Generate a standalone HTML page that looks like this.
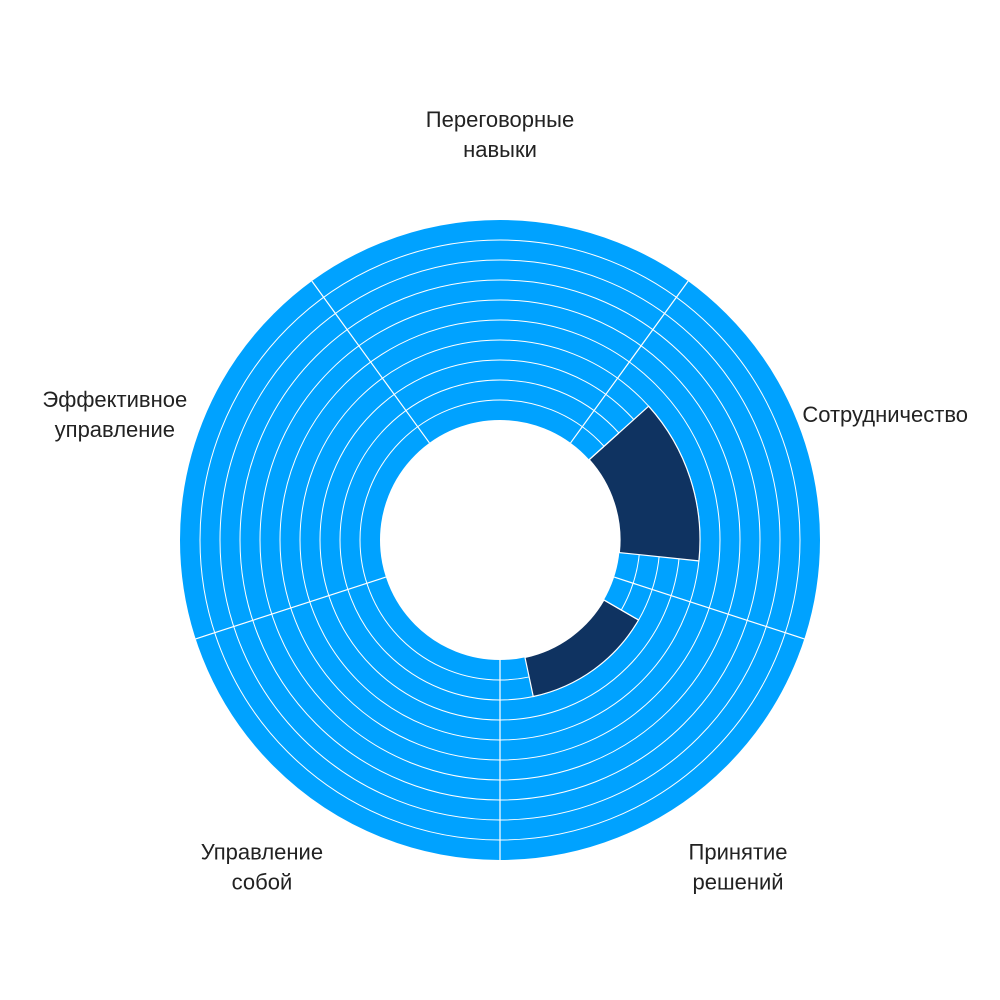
<!DOCTYPE html>
<html><head><meta charset="utf-8"><style>
html,body{margin:0;background:#fff;}
svg{display:block;font-family:"Liberation Sans",sans-serif;}
</style></head><body>
<svg id="chart" width="1000" height="1000" viewBox="0 0 1000 1000"></svg>
<script>
const categories = [["Переговорные","навыки"],["Сотрудничество"],["Принятие","решений"],["Управление","собой"],["Эффективное","управление"]];
const darkValues = [0,4,2,0,0];
const ringCount = 10;

const cx=500, cy=540, r0=120, ringW=20, NS="http://www.w3.org/2000/svg";
const svg=document.getElementById('chart');
const sectorDeg=360/categories.length, slotDeg=sectorDeg/6;
function rScale(v){return r0+v*ringW;}
function pt(a,r){const t=a*Math.PI/180;return [cx+r*Math.sin(t),cy-r*Math.cos(t)];}
function wedge(a1,a2,ri,ro){
  const p1=pt(a1,ro),p2=pt(a2,ro),p3=pt(a2,ri),p4=pt(a1,ri);const lg=(a2-a1)>180?1:0;
  return `M${p1}A${ro},${ro} 0 ${lg} 1 ${p2}L${p3}A${ri},${ri} 0 ${lg} 0 ${p4}Z`;
}
function mk(tag,attrs){const e=document.createElementNS(NS,tag);for(const k in attrs)e.setAttribute(k,attrs[k]);svg.appendChild(e);return e;}
for(let i=0;i<ringCount;i++){
  const c=mk('circle',{cx:cx,cy:cy,r:rScale(i+0.5),fill:'none',stroke:'#00a2ff','stroke-width':ringW});
  
  
}
for(let i=1;i<ringCount;i++){
  const c=mk('circle',{cx:cx,cy:cy,r:rScale(i),fill:'none',stroke:'#fff','stroke-width':1});
  
  
}
categories.forEach((cat,i)=>{
  const a0=i*sectorDeg-sectorDeg/2;
  const p1=pt(a0,r0),p2=pt(a0,rScale(ringCount));
  const l=mk('line',{x1:p1[0],y1:p1[1],x2:p2[0],y2:p2[1],stroke:'#fff','stroke-width':1.2});
  
  
  const v=darkValues[i];
  if(v>0){
    const s=a0+slotDeg, e=a0+5*slotDeg;
    const w=mk('path',{d:wedge(s,e,r0,rScale(v)),fill:'#0f3361',stroke:'#fff','stroke-width':1.2});
    
    
    const q1=pt(s,r0),q2=pt(s,rScale(Math.min(v,2)));
    const t=mk('line',{x1:q1[0],y1:q1[1],x2:q2[0],y2:q2[1],stroke:'#fff','stroke-width':1.2});
    
    
  }
  const lp=pt(i*sectorDeg,405);
  const n=cat.length;
  cat.forEach((line,j)=>{
    const tx=mk('text',{x:lp[0],y:lp[1]+(j-(n-1)/2)*30+7,'text-anchor':'middle','font-size':22,fill:'#222'});
    tx.textContent=line;
    
    
  });
});
</script>
</body></html>
